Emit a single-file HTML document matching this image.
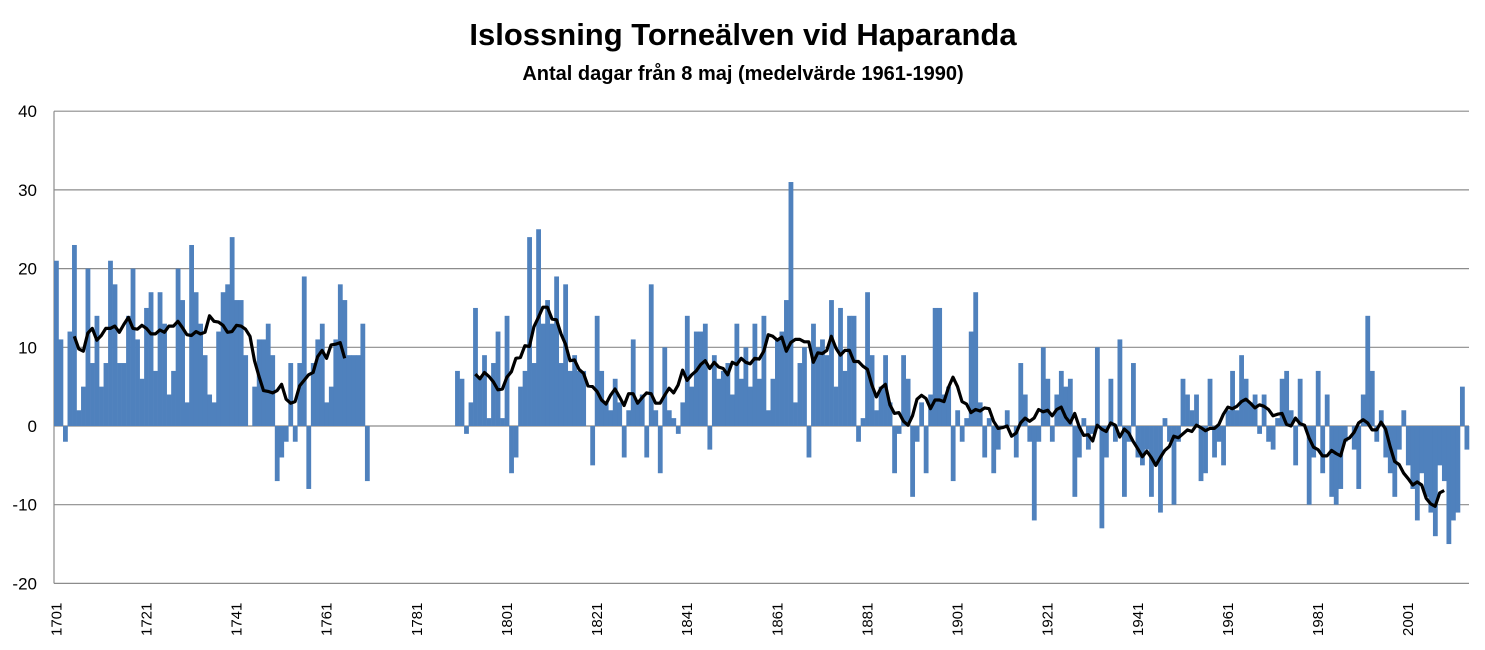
<!DOCTYPE html>
<html><head><meta charset="utf-8"><style>
body{margin:0;background:#fff;width:1485px;height:645px;overflow:hidden;font-family:"Liberation Sans",sans-serif}
</style></head><body>
<svg id="s" width="1485" height="645" xmlns="http://www.w3.org/2000/svg">
<text x="743" y="45" text-anchor="middle" font-size="31" font-weight="bold" font-family="Liberation Sans, sans-serif">Islossning Torneälven vid Haparanda</text>
<text x="743" y="80" text-anchor="middle" font-size="20" font-weight="bold" font-family="Liberation Sans, sans-serif">Antal dagar från 8 maj (medelvärde 1961-1990)</text>
</svg>
<script>
const s=document.getElementById('s');const NS='http://www.w3.org/2000/svg';
function el(t,a,txt){const e=document.createElementNS(NS,t);for(const k in a)e.setAttribute(k,a[k]);if(txt!==undefined)e.textContent=txt;s.appendChild(e);return e;}
const L=54,R=1469,Y0=426,U=7.87,N=314,W=(R-L)/N;
const y=v=>Y0-v*U;
for(let v=-20;v<=40;v+=10){el('line',{x1:L,x2:R,y1:y(v),y2:y(v),stroke:'#8c8c8c','stroke-width':1.2});
el('text',{x:37,y:y(v)+6,'text-anchor':'end','font-size':17,'font-family':'Liberation Sans, sans-serif'},v);}
el('line',{x1:L,x2:L,y1:y(40),y2:y(-20),stroke:'#8c8c8c','stroke-width':1.2});
const d=new Array(N).fill(null);
const s1=[21,11,-2,12,23,2,5,20,8,14,5,8,21,18,8,8,14,20,11,6,15,17,7,17,13,4,7,20,16,3,23,17,13,9,4,3,12,17,18,24,16,16,9,0,5,11,11,13,9,-7,-4,-2,8,-2,8,19,-8,8,11,13,3,5,11,18,16,9,9,9,13,-7];
s1.forEach((v,i)=>d[i]=v);
const s2=[7,6,-1,3,15,6,9,1,8,12,1,14,-6,-4,5,7,24,8,25,13,16,13,19,8,18,7,9,7,7,0,-5,14,7,3,2,6,3,-4,2,11,3,4,-4,18,2,-6,10,2,1,-1,3,14,5,12,12,13,-3,9,6,7,8,4,13,6,10,5,13,6,14,2,6,11,12,16,31,3,8,10,-4,13,10,11,9,16,5,15,7,14,14,-2,1,17,9,2,5,9,3,-6,-1,9,6,-9,-2,3,-6,4,15,15,4,5,-7,2,-2,1,12,17,3,-4,1,-6,-3,0,2,0,-4,8,4,-2,-12,-2,10,6,-2,4,7,5,6,-9,-4,1,-3,-1,10,-3,-4];
s2.forEach((v,i)=>{if(89+i<232)d[89+i]=v;});
const s3=[-13,-4,6,-2,11,-9,-2,8,-4,-5,-3,-9,-5,-11,1,-2,-10,-2,6,4,2,4,-7,-6,6,-4,-2,-5,2,7,2,9,6,3,4,-1,4,-2,-3,1,6,7,2,-5,6,0,-10,-4,7,-6,4,-9,-10,-8,-2,0,-3,-8,4,14,7,-2,2,-4,-6,-9,-3,2,-5,-8,-12,-6,-9,-11,-14,-5,-7,-15,-12,-11,5,-3,-13,-3];
s3.forEach((v,i)=>{if(232+i<N)d[232+i]=v;});
d.forEach((v,i)=>{if(v===null||v===0)return;el('rect',{x:L+i*W,y:Math.min(y(v),Y0),width:W+0.3,height:Math.abs(v*U),fill:'#4f81bd'});});
let pts=[];
function flush(){if(pts.length>1)el('polyline',{points:pts.join(' '),fill:'none',stroke:'#000','stroke-width':3.2,'stroke-linejoin':'round'});pts=[];}
for(let i=0;i<N;i++){let ok=true,sum=0;for(let k=i-4;k<=i+5;k++){if(k<0||k>=N||d[k]===null){ok=false;break;}sum+=d[k];}
if(ok)pts.push((L+(i+0.5)*W).toFixed(1)+','+y(sum/10).toFixed(1));else flush();}
flush();
for(let yr=1701;yr<=2001;yr+=20){const i=yr-1701;const cx=L+(i+0.5)*W+5;
el('text',{x:cx,y:636,transform:`rotate(-90 ${cx} 636)`,'font-size':15,'font-family':'Liberation Sans, sans-serif'},yr);}
</script>
</body></html>
